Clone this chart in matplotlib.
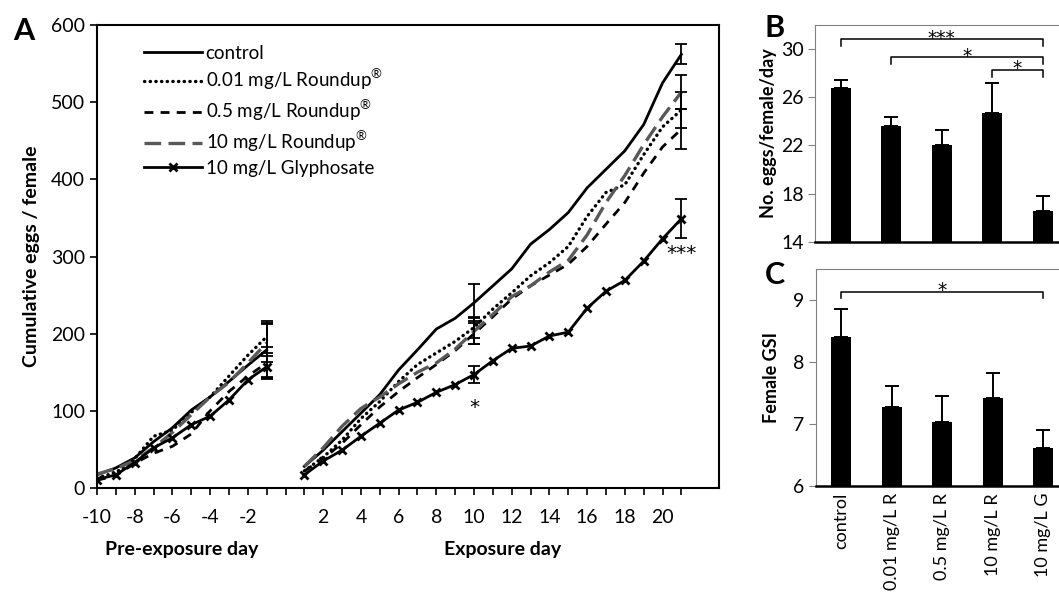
import numpy as np
import matplotlib
matplotlib.use("Agg")
import matplotlib.pyplot as plt
import matplotlib.transforms as mtransforms

plt.rcParams['font.family'] = ['Lato', 'DejaVu Sans']
plt.rcParams['mathtext.fontset'] = 'custom'
plt.rcParams['mathtext.rm'] = 'Lato'

# ---- panel A data (cumulative eggs / female) ----
pre_days = list(range(-10, 0))
exp_days = list(range(1, 22))

pre_control = [17, 26, 39, 60, 78, 101, 118, 138, 159, 179]
pre_r001 = [13, 20, 38, 67, 75, 98, 118, 145, 172, 196]
pre_r05 = [10, 16, 32, 45, 54, 70, 100, 125, 145, 162]
pre_r10 = [18, 25, 36, 52, 72, 95, 118, 137, 162, 188]
pre_glyph = [11, 17, 33, 52, 65, 82, 93, 114, 140, 157]

exp_control = [28, 49, 73, 97, 121, 153, 179, 206, 220, 240, 262, 284, 316,
               335, 357, 389, 413, 437, 471, 525, 562]
exp_r001 = [22, 40, 62, 90, 112, 138, 160, 175, 190, 208, 232, 253, 275,
            292, 313, 352, 383, 393, 432, 468, 490]
exp_r05 = [22, 38, 58, 82, 105, 125, 143, 160, 178, 200, 222, 245, 262,
           276, 290, 313, 342, 370, 408, 442, 465]
exp_r10 = [28, 52, 80, 103, 118, 135, 150, 162, 180, 203, 225, 248, 262,
           280, 295, 328, 370, 405, 445, 481, 513]
exp_glyph = [17, 35, 49, 67, 84, 101, 111, 124, 134, 147, 165, 181, 184,
             197, 202, 233, 255, 269, 294, 323, 349]

# error bars (SE) at days -1, 10 and 21
err_days = [-1, 10, 21]
err_control = [35, 24, 13]
err_r001 = [21, 14, 23]
err_r05 = [21, 14, 26]
err_r10 = [25, 17, 22]
err_glyph = [14, 11, 25]

# significance marks in panel A: (day, y, text)
stars_a = [(10, 112, '*'), (21, 312, '***')]

labels = ['control', '0.01 mg/L Roundup$^{\u00ae}$', '0.5 mg/L Roundup$^{\u00ae}$',
          '10 mg/L Roundup$^{\u00ae}$', '10 mg/L Glyphosate']

# ---- panels B, C ----
groups = ['control', '0.01 mg/L R', '0.5 mg/L R', '10 mg/L R', '10 mg/L G']
eggs_day = [26.78, 23.58, 22.0, 24.7, 16.53]
eggs_day_err = [0.67, 0.75, 1.25, 2.5, 1.25]
gsi = [8.40, 7.28, 7.04, 7.42, 6.61]
gsi_err = [0.45, 0.34, 0.42, 0.41, 0.30]

# brackets: (from, to, line height, tip height, stars)
brackets_b = [(0, 4, 30.83, 30.27, '***'), (1, 4, 29.33, 28.78, '*'), (3, 4, 28.3, 27.7, '*')]
brackets_c = [(0, 4, 9.14, 9.03, '*')]

styles = [
    dict(color='black', lw=2.0, ls='-'),
    dict(color='black', lw=2.4, ls=(0, (0.1, 1.6)), dash_capstyle='round'),
    dict(color='black', lw=2.0, ls=(0, (3.2, 2.6))),
    dict(color='#595959', lw=2.4, ls=(0, (5, 2.2))),
    dict(color='black', lw=2.0, ls='-', marker='x', ms=6, mew=2),
]

fig = plt.figure(figsize=(10.59, 5.97), dpi=100)

# ---- panel A ----
ax = fig.add_axes([0.0916, 0.1826, 0.5874, 0.7754])
pre_series = [pre_control, pre_r001, pre_r05, pre_r10, pre_glyph]
exp_series = [exp_control, exp_r001, exp_r05, exp_r10, exp_glyph]
err_series = [err_control, err_r001, err_r05, err_r10, err_glyph]

for pre, ex, err, st, lab in zip(pre_series, exp_series, err_series, styles, labels):
    ax.plot(pre_days, pre, **st)
    ax.plot(exp_days, ex, label=lab, **st)
    yvals = [pre[-1], ex[exp_days.index(10)], ex[-1]]
    ax.errorbar(err_days, yvals, yerr=err, fmt='none', ecolor='black',
                elinewidth=1.3, capsize=4, capthick=1.3)

for d, yv, s in stars_a:
    ax.annotate(s, xy=(d, yv), xytext=(0, -8.5), textcoords='offset points',
                ha='center', va='baseline', fontsize=14.5, family='DejaVu Sans')

ax.set_xlim(-10, 23)
ax.set_ylim(0, 600)
ax.set_yticks(range(0, 601, 100))
ax.set_xticks(range(-10, 22))
xlabs = [str(d) if (d % 2 == 0 and d != 0) else '' for d in range(-10, 22)]
ax.set_xticklabels(xlabs)
ax.tick_params(axis='both', direction='out', length=5, width=1.2, labelsize=14)
ax.tick_params(axis='x', pad=10)
for sp in ax.spines.values():
    sp.set_linewidth(1.5)

ax.set_ylabel('Cumulative eggs / female', fontsize=14, fontweight='bold', labelpad=8)
trans = mtransforms.blended_transform_factory(ax.transData, ax.transAxes)
ax.text(-5.5, -0.132, 'Pre-exposure day', transform=trans, ha='center', va='center',
        fontsize=14, fontweight='bold')
ax.text(11.5, -0.132, 'Exposure day', transform=trans, ha='center', va='center',
        fontsize=14, fontweight='bold')

leg = ax.legend(loc='upper left', bbox_to_anchor=(0.063, 0.974), frameon=False,
                fontsize=13.5, handlelength=3.1, handletextpad=0.2, labelspacing=0.3,
                borderaxespad=0)

fig.text(0.012, 0.948, 'A', fontsize=22, fontweight='bold', va='center')


def bar_panel(axb, vals, errs, brackets, ylim, yticks):
    x = np.arange(len(vals))
    axb.bar(x, vals, width=0.4, color='black')
    axb.errorbar(x, vals, yerr=[np.zeros(len(errs)), errs], fmt='none', ecolor='black',
                 elinewidth=1.4, capsize=5, capthick=1.4)
    for i, j, yl, yt, s in brackets:
        axb.plot([i, i, j, j], [yt, yl, yl, yt], color='black', lw=1.1)
        axb.annotate(s, xy=((i + j) / 2, yl), xytext=(0, -3.5), textcoords='offset points',
                     ha='center', va='baseline', fontsize=13.5, family='DejaVu Sans')
    axb.set_xlim(-0.5, 4.5)
    axb.set_ylim(*ylim)
    axb.set_yticks(yticks)
    axb.spines['right'].set_visible(False)
    axb.spines['top'].set_color('#808080')
    axb.spines['left'].set_color('#808080')
    axb.spines['bottom'].set_linewidth(1.8)
    axb.tick_params(axis='y', direction='out', length=5, color='#808080', labelsize=14)
    axb.tick_params(axis='x', length=0)


# ---- panel B ----
axb = fig.add_axes([0.770, 0.595, 0.2384, 0.363])
bar_panel(axb, eggs_day, eggs_day_err, brackets_b, (14, 32), [14, 18, 22, 26, 30])
axb.set_xticks(range(len(groups)))
axb.set_xticklabels([])
axb.set_ylabel('No. eggs/female/day', fontsize=13, fontweight='bold', labelpad=3)
fig.text(0.722, 0.953, 'B', fontsize=22, fontweight='bold', va='center')

# ---- panel C ----
axc = fig.add_axes([0.7705, 0.186, 0.2384, 0.363])
bar_panel(axc, gsi, gsi_err, brackets_c, (6, 9.5), [6, 7, 8, 9])
axc.set_xticks(range(len(groups)))
axc.set_xticklabels(groups, rotation=90, fontsize=13)
axc.tick_params(axis='x', pad=5)
axc.set_ylabel('Female GSI', fontsize=13, fontweight='bold', labelpad=9)
fig.text(0.722, 0.54, 'C', fontsize=22, fontweight='bold', va='center')

fig.savefig('out.png', dpi=100)
